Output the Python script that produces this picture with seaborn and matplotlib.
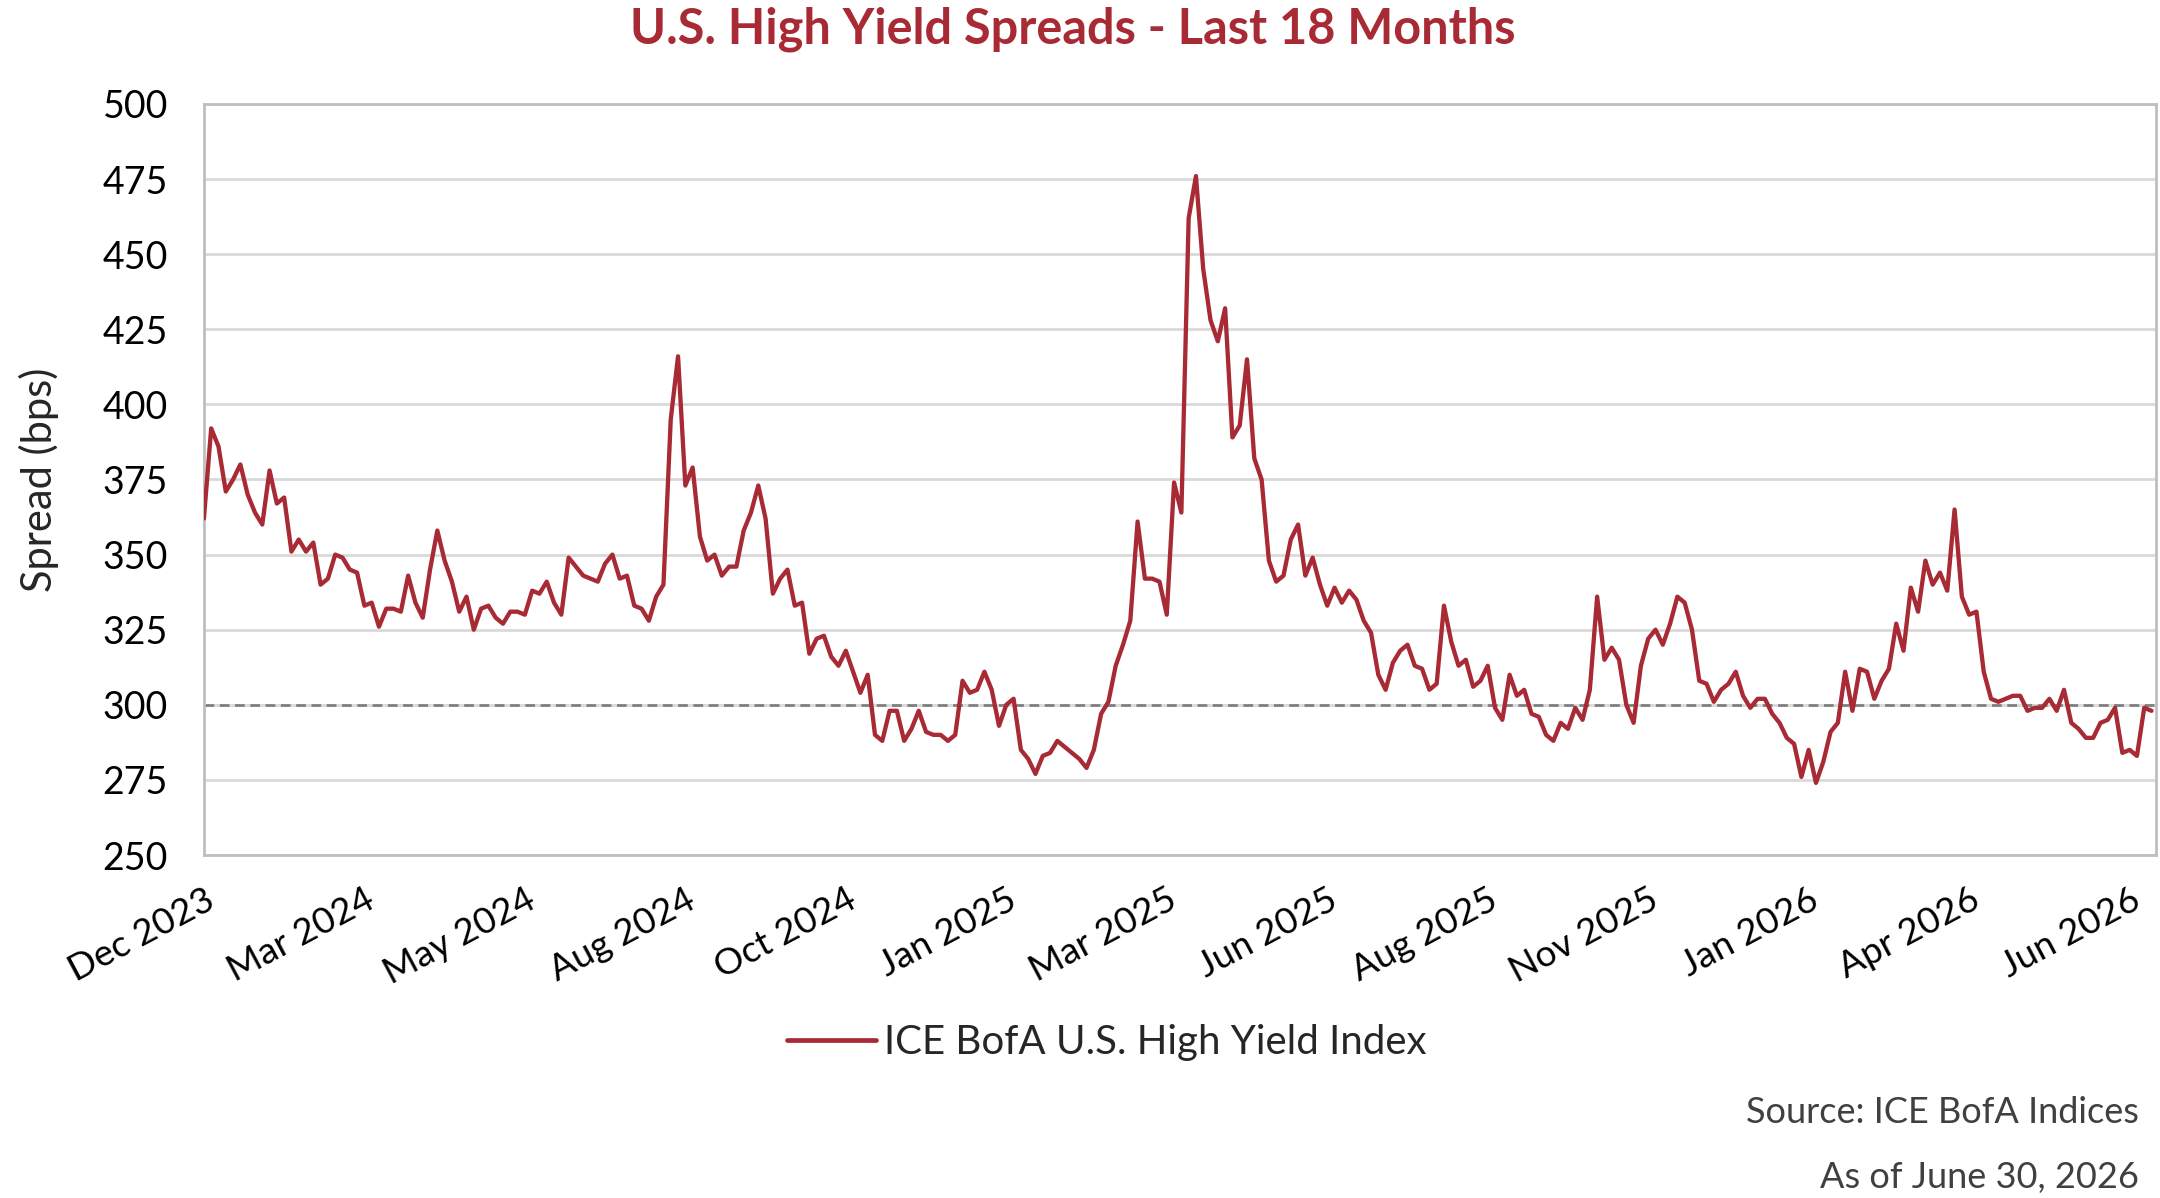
import pandas as pd
import seaborn as sns
import matplotlib.pyplot as plt
from matplotlib.lines import Line2D

# ICE BofA US High Yield spread (bps), ~2 points per week
spread_bps = [
    362, 392, 386, 371, 375, 380, 370, 364, 360, 378, 367, 369, 351, 355, 351, 354,
    340, 342, 350, 349, 345, 344, 333, 334, 326, 332, 332, 331, 343, 334, 329, 345,
    358, 348, 341, 331, 336, 325, 332, 333, 329, 327, 331, 331, 330, 338, 337, 341,
    334, 330, 349, 346, 343, 342, 341, 347, 350, 342, 343, 333, 332, 328, 336, 340,
    395, 416, 373, 379, 356, 348, 350, 343, 346, 346, 358, 364, 373, 362, 337, 342,
    345, 333, 334, 317, 322, 323, 316, 313, 318, 311, 304, 310, 290, 288, 298, 298,
    288, 292, 298, 291, 290, 290, 288, 290, 308, 304, 305, 311, 305, 293, 300, 302,
    285, 282, 277, 283, 284, 288, 286, 284, 282, 279, 285, 297, 301, 313, 320, 328,
    361, 342, 342, 341, 330, 374, 364, 462, 476, 445, 428, 421, 432, 389, 393, 415,
    382, 375, 348, 341, 343, 355, 360, 343, 349, 340, 333, 339, 334, 338, 335, 328,
    324, 310, 305, 314, 318, 320, 313, 312, 305, 307, 333, 321, 313, 315, 306, 308,
    313, 299, 295, 310, 303, 305, 297, 296, 290, 288, 294, 292, 299, 295, 305, 336,
    315, 319, 315, 300, 294, 313, 322, 325, 320, 327, 336, 334, 325, 308, 307, 301,
    305, 307, 311, 303, 299, 302, 302, 297, 294, 289, 287, 276, 285, 274, 281, 291,
    294, 311, 298, 312, 311, 302, 308, 312, 327, 318, 339, 331, 348, 340, 344, 338,
    365, 336, 330, 331, 311, 302, 301, 302, 303, 303, 298, 299, 299, 302, 298, 305,
    294, 292, 289, 289, 294, 295, 299, 284, 285, 283, 299, 298,
]
tick_labels = ['Dec 2023', 'Mar 2024', 'May 2024', 'Aug 2024', 'Oct 2024', 'Jan 2025',
               'Mar 2025', 'Jun 2025', 'Aug 2025', 'Nov 2025', 'Jan 2026', 'Apr 2026',
               'Jun 2026']
tick_step = 22
y_ticks = [250, 275, 300, 325, 350, 375, 400, 425, 450, 475, 500]

red = '#A82A34'
sns.set_style('white')
plt.rcParams['font.family'] = ['Lato', 'DejaVu Sans']

df = pd.DataFrame({'day': range(len(spread_bps)), 'spread': spread_bps})

fig = plt.figure(figsize=(21.6, 11.98), dpi=100)
ax = fig.add_axes([0.0944, 0.2863, 0.9037, 0.6269])

sns.lineplot(data=df, x='day', y='spread', color=red, linewidth=3.1, ax=ax, legend=False, zorder=3)
ax.axhline(300, color='#808080', lw=2, ls=(0, (3.5, 2)), zorder=2)

ax.set_ylim(250, 500)
ax.set_xlim(0, len(spread_bps) - 0.4)
ax.set_yticks(y_ticks)
ax.set_xticks(range(0, tick_step * len(tick_labels), tick_step))
ax.set_xticklabels(tick_labels)
ax.yaxis.grid(True, color='#D9D9D9', lw=2)
ax.set_axisbelow(True)
for s in ax.spines.values():
    s.set_color('#BFBFBF')
    s.set_linewidth(2)

ax.tick_params(axis='y', length=0, pad=26, labelsize=27, labelcolor='black')
ax.tick_params(axis='x', length=8, width=2, color='#BFBFBF', pad=12, labelsize=26.5, labelcolor='black')
plt.setp(ax.get_xticklabels(), rotation=28, ha='right', va='top', rotation_mode='anchor')

ax.set_xlabel('')
ax.set_ylabel('Spread (bps)', fontsize=30)
ax.yaxis.set_label_coords(-0.074, 0.5)

fig.text(0.4965, 0.976, 'U.S. High Yield Spreads - Last 18 Months', ha='center', va='center',
         fontsize=35, fontweight='bold', color=red)

handle = Line2D([], [], color=red, lw=3.4)
fig.legend(handles=[handle], labels=['ICE BofA U.S. High Yield Index'], loc='center',
           bbox_to_anchor=(0.5125, 0.1294), frameon=False, fontsize=29,
           handlelength=2.2, handletextpad=0.2)

fig.text(0.9903, 0.071, 'Source: ICE BofA Indices', ha='right', va='center', fontsize=26, color='#404040')
fig.text(0.9903, 0.0167, 'As of June 30, 2026', ha='right', va='center', fontsize=26, color='#404040')

fig.savefig('out.png', dpi=100)
